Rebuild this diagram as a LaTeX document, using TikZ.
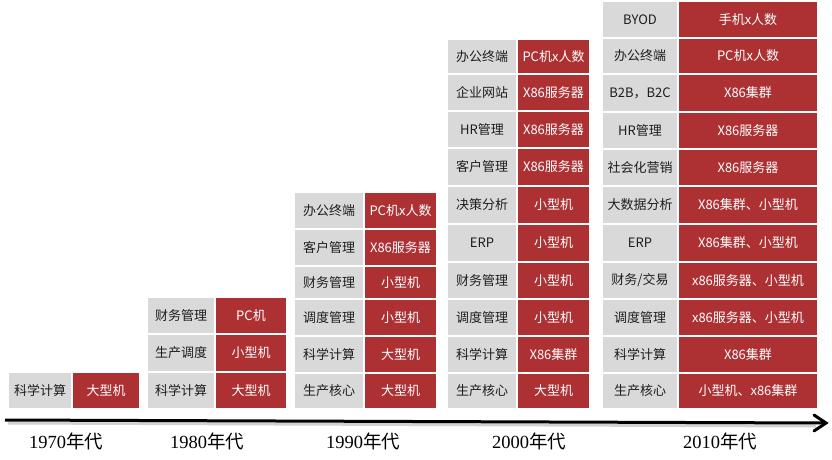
\documentclass[tikz,border=0pt]{standalone}
\usepackage{fontspec}
\usetikzlibrary{arrows.meta,calc}
\newfontfamily\cjk{Noto Sans CJK SC}
\newfontfamily\yearfont{Liberation Serif}
\definecolor{cellgray}{RGB}{217,217,217}
\definecolor{cellred}{RGB}{173,49,51}
\definecolor{celltext}{RGB}{30,30,30}
\newcommand\cellrow[8]{%
  \pgfmathsetmacro\cxa{(#2+#3)/2}%
  \pgfmathsetmacro\cxb{(#3+#4)/2}%
  \pgfmathsetmacro\cyy{(#5+#6)/2}%
  \pgfmathsetmacro\wa{#3-#2}%
  \pgfmathsetmacro\wb{#4-#3}%
  \pgfmathsetmacro\hh{#6-#5}%
  \node[gcell, minimum width=\wa pt, minimum height=\hh pt] (#1g) at (\cxa,\cyy) {#7};
  \node[rcell, minimum width=\wb pt, minimum height=\hh pt] (#1r) at (\cxb,\cyy) {#8};%
}
\begin{document}
\begin{tikzpicture}[x=1pt,y=-1pt,
  gcell/.style={rectangle, fill=cellgray, draw=white, line width=1.3pt, inner sep=0pt, text=celltext, font=\cjk\fontsize{13}{15}\selectfont},
  rcell/.style={rectangle, fill=cellred, draw=white, line width=1.3pt, inner sep=0pt, text=white, font=\cjk\fontsize{13}{15}\selectfont},
  yearlbl/.style={inner sep=0pt, text=black, font=\fontsize{18.5}{20}\selectfont}]
\useasboundingbox[fill=white] (0,0) rectangle (832,459);
% 1970s
\cellrow{a1}{8}{72}{140}{372}{409}{科学计算}{大型机}
% 1980s
\cellrow{b3}{147}{215}{287}{297}{334}{财务管理}{PC机}
\cellrow{b2}{147}{215}{287}{334}{372}{生产调度}{小型机}
\cellrow{b1}{147}{215}{287}{372}{409}{科学计算}{大型机}
% 1990s
\cellrow{c6}{294}{364}{437}{192}{229}{办公终端}{PC机x人数}
\cellrow{c5}{294}{364}{437}{229}{266}{客户管理}{X86服务器}
\cellrow{c4}{294}{364}{437}{266}{299}{财务管理}{小型机}
\cellrow{c3}{294}{364}{437}{299}{336}{调度管理}{小型机}
\cellrow{c2}{294}{364}{437}{336}{373}{科学计算}{大型机}
\cellrow{c1}{294}{364}{437}{373}{409}{生产核心}{大型机}
% 2000s
\cellrow{d10}{447}{517}{590}{39}{74}{办公终端}{PC机x人数}
\cellrow{d9}{447}{517}{590}{74}{111}{企业网站}{X86服务器}
\cellrow{d8}{447}{517}{590}{111}{148}{HR管理}{X86服务器}
\cellrow{d7}{447}{517}{590}{148}{186}{客户管理}{X86服务器}
\cellrow{d6}{447}{517}{590}{186}{224}{决策分析}{小型机}
\cellrow{d5}{447}{517}{590}{224}{262}{ERP}{小型机}
\cellrow{d4}{447}{517}{590}{262}{299}{财务管理}{小型机}
\cellrow{d3}{447}{517}{590}{299}{336}{调度管理}{小型机}
\cellrow{d2}{447}{517}{590}{336}{373}{科学计算}{X86集群}
\cellrow{d1}{447}{517}{590}{373}{409}{生产核心}{大型机}
% 2010s
\cellrow{e11}{602}{678}{818}{1}{38}{BYOD}{手机x人数}
\cellrow{e10}{602}{678}{818}{38}{74}{办公终端}{PC机x人数}
\cellrow{e9}{602}{678}{818}{74}{112}{B2B，B2C}{X86集群}
\cellrow{e8}{602}{678}{818}{112}{149}{HR管理}{X86服务器}
\cellrow{e7}{602}{678}{818}{149}{186}{社会化营销}{X86服务器}
\cellrow{e6}{602}{678}{818}{186}{224}{大数据分析}{X86集群、小型机}
\cellrow{e5}{602}{678}{818}{224}{262}{ERP}{X86集群、小型机}
\cellrow{e4}{602}{678}{818}{262}{299}{财务/交易}{x86服务器、小型机}
\cellrow{e3}{602}{678}{818}{299}{336}{调度管理}{x86服务器、小型机}
\cellrow{e2}{602}{678}{818}{336}{373}{科学计算}{X86集群}
\cellrow{e1}{602}{678}{818}{373}{409}{生产核心}{小型机、x86集群}
% axis
\coordinate (axs) at (5,420);
\coordinate (axe) at (826,423);
\coordinate (axss) at (8,423);
\coordinate (axes) at (816,426);
\draw[line width=3pt, black!25, opacity=0.7] (axss) -- (axes);
\draw[line width=3pt] (axs) -- (axe);
\draw[line width=3pt, line join=miter, line cap=round] ($(axe)+(-12,-8)$) -- (axe) -- ($(axe)+(-12,8)$);
% year labels
\node[yearlbl] (y1) at (66,441) {\yearfont 1970\cjk 年代};
\node[yearlbl] (y2) at (207,441) {\yearfont 1980\cjk 年代};
\node[yearlbl] (y3) at (363,441) {\yearfont 1990\cjk 年代};
\node[yearlbl] (y4) at (529,441) {\yearfont 2000\cjk 年代};
\node[yearlbl] (y5) at (720,441) {\yearfont 2010\cjk 年代};
\end{tikzpicture}
\end{document}
